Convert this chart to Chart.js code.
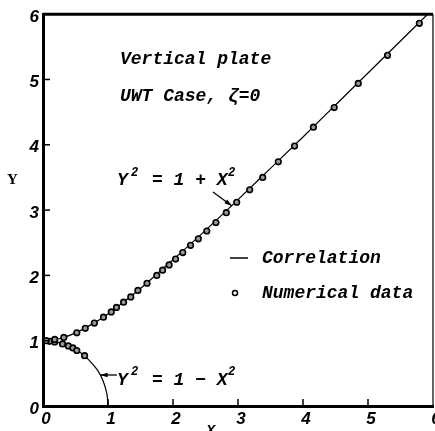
<!DOCTYPE html>
<html>
<head>
<meta charset="utf-8">
<script src="https://cdn.jsdelivr.net/npm/chart.js@4/dist/chart.umd.min.js"></script>
<style>
  html, body { margin: 0; padding: 0; background: #fff; overflow: hidden; }
  #wrap { width: 445px; height: 440px; }
</style>
</head>
<body>
<div id="wrap"><canvas id="chart" width="445" height="440"></canvas></div>
<script>
// correlation curves
const corrUpperX = [0, 0.25, 0.5, 0.75, 1, 1.25, 1.5, 1.75, 2, 2.5, 3, 3.5, 4, 4.5, 5, 5.5, 6];
const corrUpperY = [1, 1.03, 1.12, 1.25, 1.41, 1.60, 1.80, 2.02, 2.24, 2.69, 3.16, 3.64, 4.12, 4.61, 5.10, 5.59, 6.08];
const corrLowerX = [0, 0.2, 0.4, 0.6, 0.7, 0.8, 0.85, 0.9, 0.94, 0.97, 0.99, 1];
const corrLowerY = [1, 0.98, 0.92, 0.80, 0.71, 0.60, 0.53, 0.44, 0.34, 0.24, 0.14, 0];

// numerical data points
const numUpperX = [0.05, 0.18, 0.32, 0.52, 0.65, 0.79, 0.93, 1.05, 1.13, 1.24, 1.35, 1.46, 1.60, 1.75, 1.84, 1.94, 2.04, 2.15, 2.27, 2.39, 2.52, 2.66, 2.82, 2.98, 3.18, 3.38, 3.62, 3.87, 4.16, 4.48, 4.85, 5.30, 5.79];
const numUpperY = [1.00, 1.02, 1.05, 1.12, 1.19, 1.27, 1.36, 1.44, 1.51, 1.59, 1.67, 1.77, 1.88, 2.00, 2.08, 2.16, 2.25, 2.35, 2.46, 2.56, 2.68, 2.81, 2.96, 3.12, 3.31, 3.50, 3.74, 3.98, 4.27, 4.57, 4.94, 5.37, 5.86];
const numLowerX = [0.10, 0.18, 0.30, 0.39, 0.46, 0.52, 0.64];
const numLowerY = [0.99, 0.98, 0.95, 0.92, 0.89, 0.85, 0.77];

const xTicks = [0, 1, 2, 3, 4, 5, 6];
const yTicks = [0, 1, 2, 3, 4, 5, 6];

const toXY = (xs, ys) => xs.map((x, i) => ({ x, y: ys[i] }));

const MONO = '"Liberation Mono", "DejaVu Sans Mono", monospace';

// frame, inward ticks and text labels
const extras = {
  id: 'extras',
  afterDraw(chart) {
    const ctx = chart.ctx;
    const a = chart.chartArea;
    const xs = chart.scales.x, ys = chart.scales.y;
    ctx.save();
    ctx.strokeStyle = '#000';
    // top & right frame
    ctx.lineWidth = 3;
    ctx.beginPath();
    ctx.moveTo(a.left, a.top);
    ctx.lineTo(a.right, a.top);
    ctx.stroke();
    ctx.lineWidth = 1.2;
    ctx.beginPath();
    ctx.moveTo(a.right, a.top);
    ctx.lineTo(a.right, a.bottom);
    ctx.stroke();
    // inward ticks
    ctx.lineWidth = 1.5;
    for (let v = 1; v <= 5; v++) {
      const py = ys.getPixelForValue(v);
      ctx.beginPath(); ctx.moveTo(a.left, py); ctx.lineTo(a.left + 7, py); ctx.stroke();
      const px = xs.getPixelForValue(v);
      ctx.beginPath(); ctx.moveTo(px, a.bottom); ctx.lineTo(px, a.bottom - 7); ctx.stroke();
    }

    ctx.fillStyle = '#000';
    ctx.textAlign = 'left';
    ctx.textBaseline = 'alphabetic';
    const big = 'italic bold 18px ' + MONO;
    const sup = 'italic bold 12px ' + MONO;
    ctx.font = big;
    ctx.fillText('Vertical plate', 120, 64);
    ctx.fillText('UWT Case, \u03B6=0', 120, 101);

    // Y^2 = 1 + X^2
    ctx.fillText('Y', 117, 185);
    ctx.fillText('= 1 + X', 152, 185);
    ctx.font = sup;
    ctx.fillText('2', 131, 176);
    ctx.fillText('2', 228, 176);

    // Y^2 = 1 - X^2
    ctx.font = big;
    ctx.fillText('Y', 117, 385);
    ctx.fillText('= 1 \u2212 X', 152, 385);
    ctx.font = sup;
    ctx.fillText('2', 131, 375);
    ctx.fillText('2', 228, 375);

    // arrows
    const arrow = (x1, y1, x2, y2) => {
      ctx.lineWidth = 1.3;
      ctx.beginPath(); ctx.moveTo(x1, y1); ctx.lineTo(x2, y2); ctx.stroke();
      const ang = Math.atan2(y2 - y1, x2 - x1);
      ctx.beginPath();
      ctx.moveTo(x2, y2);
      ctx.lineTo(x2 - 8 * Math.cos(ang - 0.3), y2 - 8 * Math.sin(ang - 0.3));
      ctx.lineTo(x2 - 8 * Math.cos(ang + 0.3), y2 - 8 * Math.sin(ang + 0.3));
      ctx.closePath();
      ctx.fill();
    };
    arrow(213, 192, 232, 206);
    arrow(117, 375, 100, 375);

    // legend
    ctx.lineWidth = 1.5;
    ctx.beginPath(); ctx.moveTo(230, 258); ctx.lineTo(248, 258); ctx.stroke();
    ctx.beginPath(); ctx.arc(235, 293, 2.5, 0, Math.PI * 2); ctx.stroke();
    ctx.font = big;
    ctx.fillText('Correlation', 262, 263);
    ctx.fillText('Numerical data', 262, 298);

    // axis titles
    ctx.font = 'bold 15px "Liberation Serif", serif';
    ctx.fillText('Y', 7, 184);
    ctx.font = 'italic bold 14px "Liberation Sans", sans-serif';
    ctx.fillText('X', 206, 435);
    ctx.restore();
  }
};

new Chart(document.getElementById('chart'), {
  type: 'scatter',
  data: {
    datasets: [
      {
        type: 'line',
        data: toXY(corrUpperX, corrUpperY),
        borderColor: '#000',
        borderWidth: 1.2,
        pointRadius: 0,
        cubicInterpolationMode: 'monotone',
        fill: false,
        order: 2
      },
      {
        type: 'line',
        data: toXY(corrLowerX, corrLowerY),
        borderColor: '#000',
        borderWidth: 1.2,
        pointRadius: 0,
        cubicInterpolationMode: 'monotone',
        fill: false,
        order: 2
      },
      {
        data: toXY(numUpperX, numUpperY),
        pointRadius: 2.8,
        pointBorderWidth: 1.6,
        pointBorderColor: '#000',
        pointBackgroundColor: '#999',
        order: 1
      },
      {
        data: toXY(numLowerX, numLowerY),
        pointRadius: 2.8,
        pointBorderWidth: 1.6,
        pointBorderColor: '#000',
        pointBackgroundColor: '#999',
        order: 1
      }
    ]
  },
  options: {
    responsive: false,
    animation: false,
    layout: { padding: { top: 13, right: 12, left: 0, bottom: 0 } },
    plugins: { legend: { display: false }, tooltip: { enabled: false } },
    scales: {
      x: {
        type: 'linear',
        min: 0,
        max: 6,
        afterFit: (s) => { s.height = 34; },
        afterBuildTicks: (s) => { s.ticks = xTicks.map(v => ({ value: v })); },
        grid: { display: false, drawTicks: false },
        border: { display: true, color: '#000', width: 3 },
        ticks: {
          color: '#000',
          padding: 3,
          labelOffset: 3,
          maxRotation: 0,
          font: { family: '"Liberation Sans", sans-serif', size: 17, style: 'italic', weight: 'bold' }
        }
      },
      y: {
        type: 'linear',
        min: 0,
        max: 6,
        afterFit: (s) => { s.width = 43; },
        afterBuildTicks: (s) => { s.ticks = yTicks.map(v => ({ value: v })); },
        grid: { display: false, drawTicks: false },
        border: { display: true, color: '#000', width: 3 },
        ticks: {
          color: '#000',
          padding: 4,
          labelOffset: 3,
          font: { family: '"Liberation Sans", sans-serif', size: 17, style: 'italic', weight: 'bold' }
        }
      }
    }
  },
  plugins: [extras]
});
</script>
</body>
</html>
